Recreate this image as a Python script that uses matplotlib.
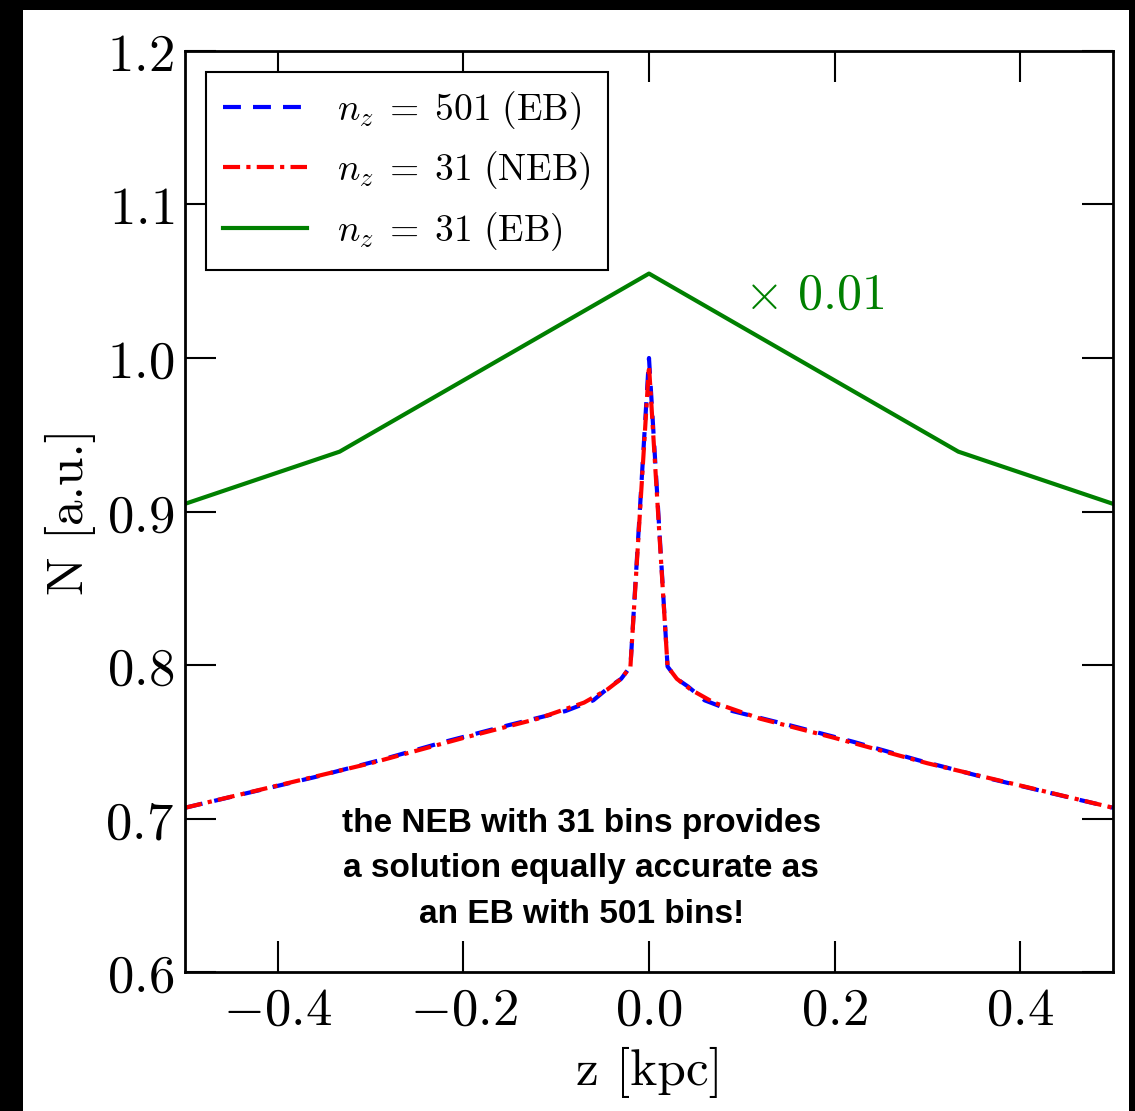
import numpy as np
import matplotlib
matplotlib.use('Agg')
import matplotlib.pyplot as plt
from matplotlib.ticker import MultipleLocator, FuncFormatter
from matplotlib.patches import Rectangle

plt.rcParams['mathtext.fontset'] = 'cm'
plt.rcParams['font.family'] = ['DejaVu Serif']

# EB, 501 bins
z_eb501 = [-0.5, -0.43, -0.36, -0.29, -0.22, -0.15, -0.09, -0.06, -0.042, -0.03, -0.02, 0.0,
           0.02, 0.03, 0.042, 0.06, 0.09, 0.15, 0.22, 0.29, 0.36, 0.43, 0.5]
n_eb501 = [0.707, 0.717, 0.727, 0.738, 0.750, 0.761, 0.770, 0.777, 0.786, 0.791, 0.799, 1.0,
           0.799, 0.791, 0.786, 0.777, 0.770, 0.761, 0.750, 0.738, 0.727, 0.717, 0.707]

# NEB, 31 bins
z_neb31 = [-0.5, -0.4, -0.3, -0.2, -0.12, -0.07, -0.045, -0.03, -0.02, 0.0,
           0.02, 0.03, 0.045, 0.07, 0.12, 0.2, 0.3, 0.4, 0.5]
n_neb31 = [0.707, 0.7215, 0.736, 0.7525, 0.765, 0.7755, 0.784, 0.791, 0.799, 0.995,
           0.799, 0.791, 0.784, 0.7755, 0.765, 0.7525, 0.736, 0.7215, 0.707]

# EB, 31 bins (scaled by 0.01)
z_eb31 = [-0.5, -1/3, 0.0, 1/3, 0.5]
n_eb31 = [0.905, 0.939, 1.055, 0.939, 0.905]

labels = [r'$n_z\;=\;501\ \mathrm{(EB)}$', r'$n_z\;=\;31\ \mathrm{(NEB)}$', r'$n_z\;=\;31\ \mathrm{(EB)}$']

fig = plt.figure(figsize=(11.35, 11.11), dpi=100, facecolor='black')
# white page inside the black frame
fig.patches.append(Rectangle((0.0203, 0.0), 0.9744, 0.991, transform=fig.transFigure,
                             facecolor='white', edgecolor='none', zorder=-10))

ax = fig.add_axes([0.163, 0.1251, 0.8176, 0.829])

ax.plot(z_eb501, n_eb501, color='blue', lw=3, linestyle=(0, (4.3, 2.9)), label=labels[0])
ax.plot(z_neb31, n_neb31, color='red', lw=3, linestyle=(0, (4.1, 1.5, 1.0, 1.5)), label=labels[1])
ax.plot(z_eb31, n_eb31, color='green', lw=3, label=labels[2])

ax.text(0.102, 1.032, r'$\times\ 0.01$', color='green', fontsize=36)
ax.text(0.427, 0.112, 'the NEB with 31 bins provides\na solution equally accurate as\nan EB with 501 bins!',
        transform=ax.transAxes, ha='center', va='center', fontsize=24, fontweight='bold',
        family='Liberation Sans', linespacing=1.6)

ax.set_xlim(-0.5, 0.5)
ax.set_ylim(0.6, 1.2)
ax.xaxis.set_major_locator(MultipleLocator(0.2))
ax.yaxis.set_major_locator(MultipleLocator(0.1))
fmt = FuncFormatter(lambda v, p: r'$%.1f$' % (round(v, 1) + 0.0))
ax.xaxis.set_major_formatter(fmt)
ax.yaxis.set_major_formatter(fmt)
ax.tick_params(direction='in', length=22, width=1.5, top=True, right=True, labelsize=38)
ax.tick_params(axis='x', pad=9)
ax.tick_params(axis='y', pad=8)
for s in ax.spines.values():
    s.set_linewidth(2)

ax.set_xlabel('z [kpc]', family='cmr10', fontsize=37, labelpad=8)
ax.set_ylabel('N [a.u.]', family='cmr10', fontsize=37, labelpad=7)

leg = ax.legend(loc='upper left', bbox_to_anchor=(0.0226, 0.977), borderaxespad=0,
                fontsize=27, fancybox=False, framealpha=1, edgecolor='black',
                handlelength=2.25, handletextpad=0.8, labelspacing=0.47, borderpad=0.45)
leg.get_frame().set_linewidth(1.5)

fig.savefig('out.png', dpi=100, facecolor=fig.get_facecolor())
